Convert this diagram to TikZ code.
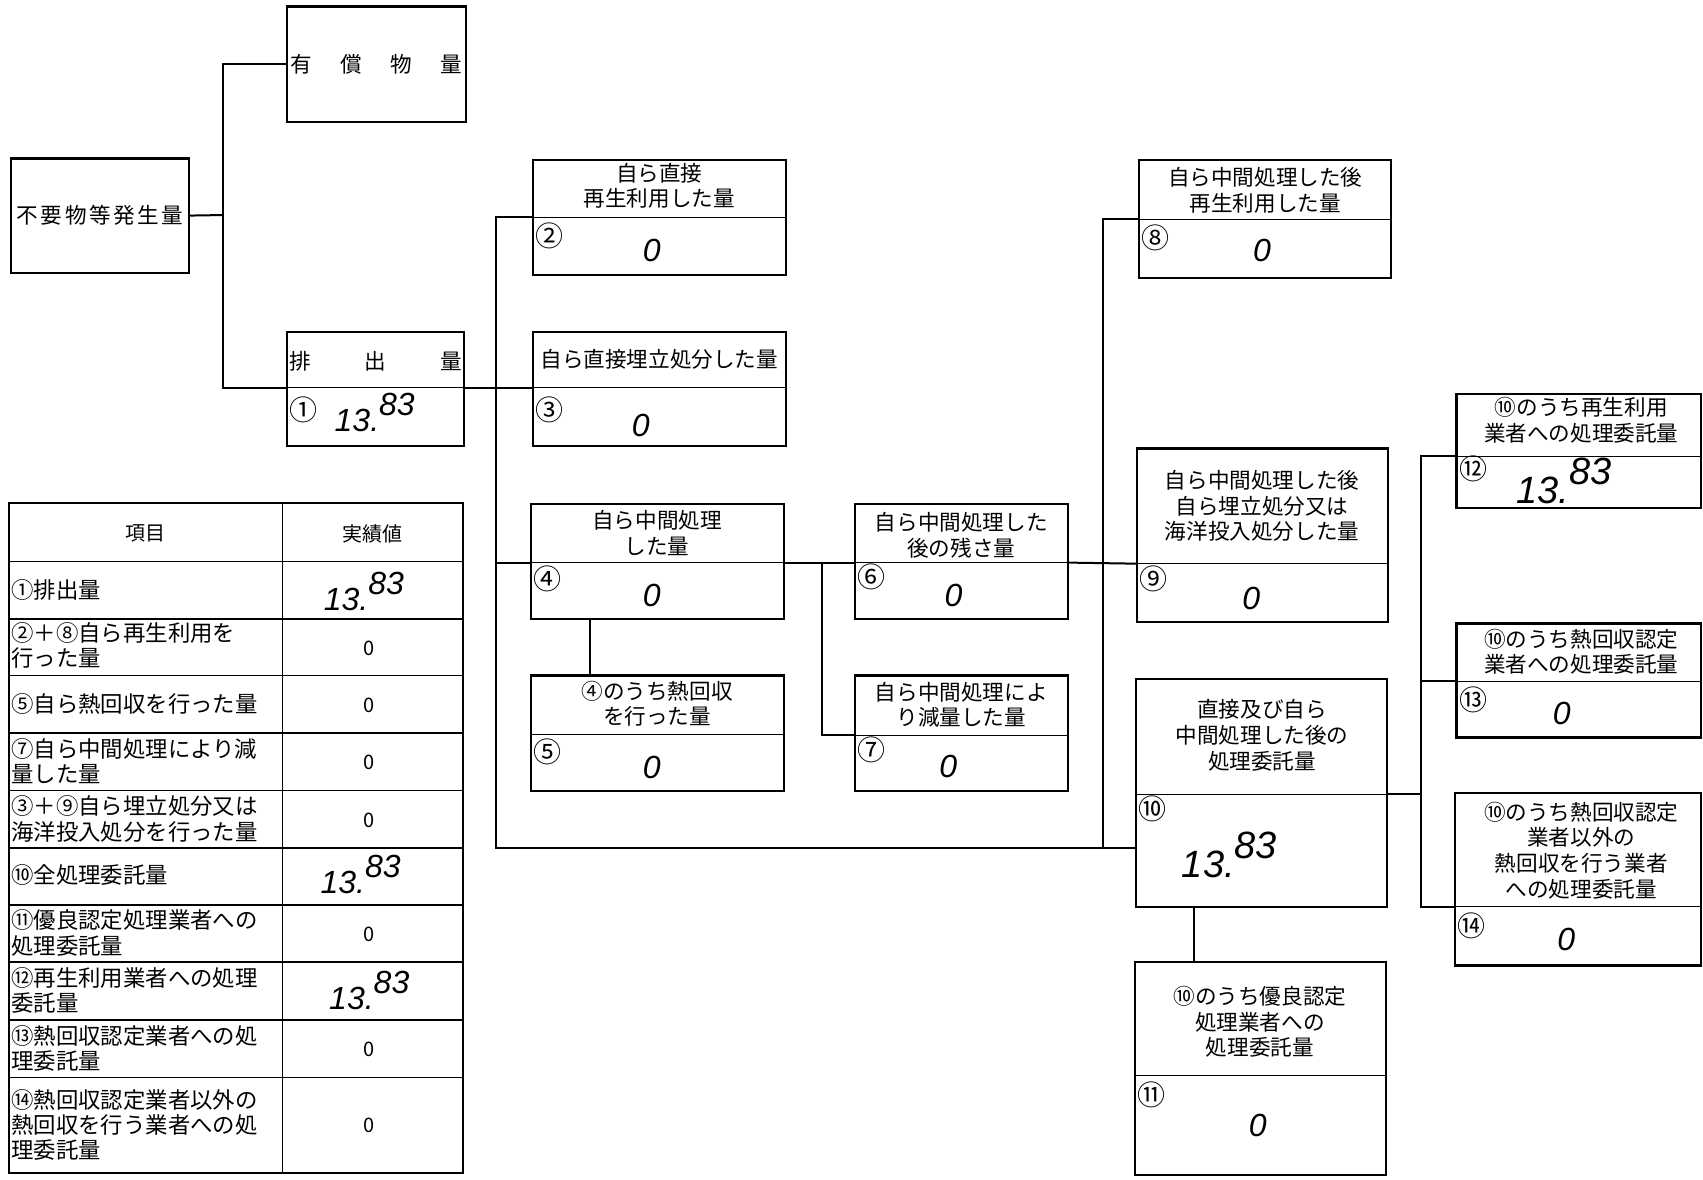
\documentclass[tikz,border=0pt]{standalone}
\usepackage{fontspec}
\setmainfont{Noto Sans CJK JP}
\newfontfamily\handfont{Liberation Sans}
\usetikzlibrary{fit,positioning}

\tikzset{
  qbox/.style={draw, line width=1.1pt, inner sep=0pt},
  divline/.style={line width=0.4pt},
  conn/.style={line width=1pt},
  boxtext/.style={inner sep=0pt, align=center, font=\fontsize{10.8}{12.8}\selectfont},
  circnum/.style={inner sep=0pt, anchor=west, font=\fontsize{14}{14}\selectfont},
  handval/.style={inner sep=0pt, font=\handfont\itshape\fontsize{16}{16}\selectfont},
  cell/.style={inner sep=0pt, anchor=west, align=left, font=\fontsize{11.2}{12.6}\selectfont},
  cellval/.style={inner sep=0pt, font=\fontsize{10}{10}\selectfont},
  tline/.style={line width=0.8pt},
}

\begin{document}
\begin{tikzpicture}[x=0.54305pt,y=0.54305pt,yscale=-1,xscale=1]
		\useasboundingbox (0,0) rectangle (1568,1086);

		% Shape: Kasten Erzeugung
		\node[qbox, fit={(10,146) (174,251)}] (gen) {};
		\node[boxtext] (gen-t) at (gen.center) {\makebox[83pt]{不\hfill 要\hfill 物\hfill 等\hfill 発\hfill 生\hfill 量}};

		% Shape: Kasten Wertstoffe
		\node[qbox, fit={(264,6) (429,112)}] (paid) {};
		\node[boxtext] (paid-t) at (paid.center) {\makebox[86pt]{有\hfill 償\hfill 物\hfill 量}};

		% Shape: Kasten Abgabe (1)
		\node[qbox, fit={(264,306) (427,411)}] (out) {};
		\draw[divline] (264,357) coordinate (out-l) -- (427,357) coordinate (out-r);
		\node[boxtext] (out-t) at (346,333) {\makebox[86pt]{排\hfill 出\hfill 量}};
		\node[circnum] (out-n) at (266,377) {①};
		\node[handval] (out-v) at (345,380) {13.\raisebox{0.5em}{83}};

		% Shape: Kasten (2)
		\node[qbox, fit={(491,147) (724,253)}] (b2) {};
		\draw[divline] (491,200) coordinate (b2-l) -- (724,200) coordinate (b2-r);
		\node[boxtext] (b2-t) at (607,171) {自ら直接\\再生利用した量};
		\node[circnum] (b2-n) at (493,217) {②};
		\node[handval] (b2-v) at (600,231) {0};

		% Shape: Kasten (3)
		\node[qbox, fit={(491,306) (724,411)}] (b3) {};
		\draw[divline] (491,357) coordinate (b3-l) -- (724,357) coordinate (b3-r);
		\node[boxtext] (b3-t) at (607,331) {自ら直接埋立処分した量};
		\node[circnum] (b3-n) at (493,377) {③};
		\node[handval] (b3-v) at (590,392) {0};

		% Shape: Kasten (4)
		\node[qbox, fit={(489,464) (722,570)}] (b4) {};
		\draw[divline] (489,518) coordinate (b4-l) -- (722,518) coordinate (b4-r);
		\node[boxtext] (b4-t) at (605,491) {自ら中間処理\\した量};
		\node[circnum] (b4-n) at (491,533) {④};
		\node[handval] (b4-v) at (600,548) {0};

		% Shape: Kasten (5)
		\node[qbox, fit={(489,622) (722,728)}] (b5) {};
		\draw[divline] (489,676) coordinate (b5-l) -- (722,676) coordinate (b5-r);
		\node[boxtext] (b5-t) at (605,648) {④のうち熱回収\\を行った量};
		\node[circnum] (b5-n) at (491,692) {⑤};
		\node[handval] (b5-v) at (600,707) {0};

		% Shape: Kasten (6)
		\node[qbox, fit={(787,464) (983,570)}] (b6) {};
		\draw[divline] (787,518) coordinate (b6-l) -- (983,518) coordinate (b6-r);
		\node[boxtext] (b6-t) at (885,493) {自ら中間処理した\\後の残さ量};
		\node[circnum] (b6-n) at (789,531) {⑥};
		\node[handval] (b6-v) at (878,548) {0};

		% Shape: Kasten (7)
		\node[qbox, fit={(787,622) (983,728)}] (b7) {};
		\draw[divline] (787,677) coordinate (b7-l) -- (983,677) coordinate (b7-r);
		\node[boxtext] (b7-t) at (885,649) {自ら中間処理によ\\り減量した量};
		\node[circnum] (b7-n) at (789,690) {⑦};
		\node[handval] (b7-v) at (873,706) {0};

		% Shape: Kasten (8)
		\node[qbox, fit={(1049,147) (1281,256)}] (b8) {};
		\draw[divline] (1049,202) coordinate (b8-l) -- (1281,202) coordinate (b8-r);
		\node[boxtext] (b8-t) at (1165,175) {自ら中間処理した後\\再生利用した量};
		\node[circnum] (b8-n) at (1051,219) {⑧};
		\node[handval] (b8-v) at (1162,231) {0};

		% Shape: Kasten (9)
		\node[qbox, fit={(1047,413) (1278,573)}] (b9) {};
		\draw[divline] (1047,519) coordinate (b9-l) -- (1278,519) coordinate (b9-r);
		\node[boxtext] (b9-t) at (1162,466) {自ら中間処理した後\\自ら埋立処分又は\\海洋投入処分した量};
		\node[circnum] (b9-n) at (1049,533) {⑨};
		\node[handval] (b9-v) at (1152,551) {0};

		% Shape: Kasten (10)
		\node[qbox, fit={(1046,625) (1277,835)}] (b10) {};
		\draw[divline] (1046,731) coordinate (b10-l) -- (1277,731) coordinate (b10-r);
		\node[boxtext] (b10-t) at (1162,677) {直接及び自ら\\中間処理した後の\\処理委託量};
		\node[circnum] (b10-n) at (1048,745) {⑩};
		\node[handval, font=\handfont\itshape\fontsize{19}{19}\selectfont] (b10-v) at (1132,787) {13.\raisebox{0.5em}{83}};

		% Shape: Kasten (11)
		\node[qbox, fit={(1045,886) (1276,1082)}] (b11) {};
		\draw[divline] (1045,990) coordinate (b11-l) -- (1276,990) coordinate (b11-r);
		\node[boxtext] (b11-t) at (1160,941) {⑩のうち優良認定\\処理業者への\\処理委託量};
		\node[circnum] (b11-n) at (1047,1008) {⑪};
		\node[handval] (b11-v) at (1158,1036) {0};

		% Shape: Kasten (12)
		\node[qbox, fit={(1341,363) (1566,468)}] (b12) {};
		\draw[divline] (1341,420) coordinate (b12-l) -- (1566,420) coordinate (b12-r);
		\node[boxtext] (b12-t) at (1456,387) {⑩のうち再生利用\\業者への処理委託量};
		\node[circnum] (b12-n) at (1343,432) {⑫};
		\node[handval, font=\handfont\itshape\fontsize{19}{19}\selectfont] (b12-v) at (1440,443) {13.\raisebox{0.5em}{83}};

		% Shape: Kasten (13)
		\node[qbox, fit={(1341,574) (1566,679)}] (b13) {};
		\draw[divline] (1341,627) coordinate (b13-l) -- (1566,627) coordinate (b13-r);
		\node[boxtext] (b13-t) at (1456,600) {⑩のうち熱回収認定\\業者への処理委託量};
		\node[circnum] (b13-n) at (1343,644) {⑬};
		\node[handval] (b13-v) at (1438,657) {0};

		% Shape: Kasten (14)
		\node[qbox, fit={(1340,730) (1566,889)}] (b14) {};
		\draw[divline] (1340,835) coordinate (b14-l) -- (1566,835) coordinate (b14-r);
		\node[boxtext] (b14-t) at (1456,783) {⑩のうち熱回収認定\\業者以外の\\熱回収を行う業者\\への処理委託量};
		\node[circnum] (b14-n) at (1342,852) {⑭};
		\node[handval] (b14-v) at (1442,865) {0};

		% Verbindungen
		\coordinate (j0) at (205,198);
		\coordinate (tA) at (457,781);
		\coordinate (b10-in) at (b10.west |- tA);
		\draw[conn] (gen.east) -- (j0);
		\draw[conn] (paid.west) -| (j0) |- (out-l);
		\draw[conn] (out-r) -- (b3-l);
		\draw[conn] (b2-l) -| (tA) -- (b10-in);
		\draw[conn] (b4-l) -- (b4-l -| tA);
		\draw[conn] (b4.south -| 543,0) -- (b5.north -| 543,0);
		\draw[conn] (b4-r) -- (b6-l);
		\draw[conn] (b4-r -| 757,0) |- (b7-l);
		\draw[conn] (b6-r) -- (b9-l);
		\draw[conn] (b8-l) -| (tA -| 1016,0);
		\draw[conn] (b10.south -| 1099,0) -- (b11.north -| 1099,0);
		\draw[conn] (b10-r) -- (b10-r -| 1308,0);
		\draw[conn] (b12-l) -| (b14-l -| 1308,0) -- (b14-l);
		\draw[conn] (b13-l) -- (b13-l -| 1308,0);

		% Tabelle
		\draw[conn] (8,463) rectangle (426,1080);
		\draw[tline] (260,463) -- (260,1080);
		\foreach \y in {517,570,622,675,728,781,833,886,939,992}
			\draw[tline] (8,\y) -- (426,\y);
		\node[cellval] (h1) at (134,491) {項目};
		\node[cellval] (h2) at (343,492) {実績値};
		\node[cell] (r1) at (10,543) {①排出量};
		\node[cell] (r2) at (10,594.5) {②＋⑧自ら再生利用を\\行った量};
		\node[cell] (r3) at (10,648) {⑤自ら熱回収を行った量};
		\node[cell] (r4) at (10,701) {⑦自ら中間処理により減\\量した量};
		\node[cell] (r5) at (10,754) {③＋⑨自ら埋立処分又は\\海洋投入処分を行った量};
		\node[cell] (r6) at (10,806) {⑩全処理委託量};
		\node[cell] (r7) at (10,859) {⑪優良認定処理業者への\\処理委託量};
		\node[cell] (r8) at (10,912) {⑫再生利用業者への処理\\委託量};
		\node[cell] (r9) at (10,965) {⑬熱回収認定業者への処\\理委託量};
		\node[cell] (r10) at (10,1036) {⑭熱回収認定業者以外の\\熱回収を行う業者への処\\理委託量};
		\node[handval] (v1) at (335,545) {13.\raisebox{0.5em}{83}};
		\node[cellval] (v2) at (340,597) {0};
		\node[cellval] (v3) at (340,649) {0};
		\node[cellval] (v4) at (340,702) {0};
		\node[cellval] (v5) at (340,755) {0};
		\node[handval] (v6) at (332,805) {13.\raisebox{0.5em}{83}};
		\node[cellval] (v7) at (340,860) {0};
		\node[handval] (v8) at (340,912) {13.\raisebox{0.5em}{83}};
		\node[cellval] (v9) at (340,966) {0};
		\node[cellval] (v10) at (340,1036) {0};

	\end{tikzpicture}
\end{document}
